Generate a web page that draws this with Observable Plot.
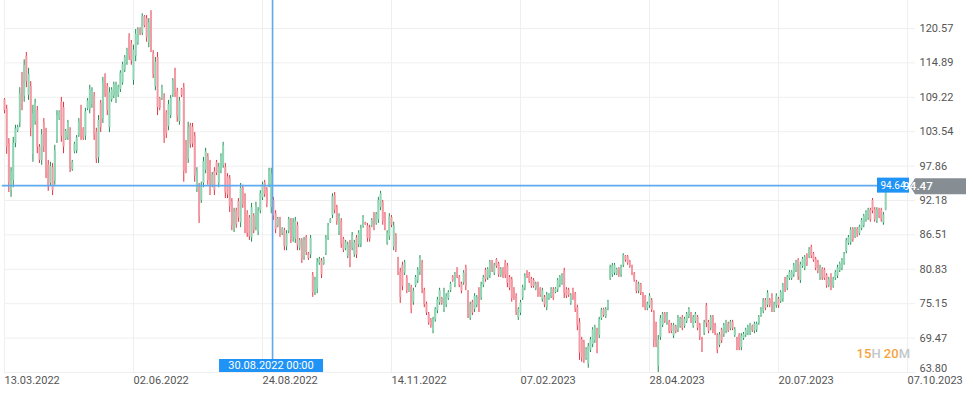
<!DOCTYPE html>
<html><head><meta charset="utf-8">
<script src="https://cdn.jsdelivr.net/npm/d3@7"></script>
<script src="https://cdn.jsdelivr.net/npm/@observablehq/plot@0.6"></script>
<style>html,body{margin:0;padding:0;background:#fff;}#chart svg{display:block}</style>
</head><body><div id="chart"></div>
<script>
// OHLC bars [open, high, low, close], one array per date-label interval
const seg1 = [
[108.8,109.0,106.5,107.0],[107.3,107.9,99.8,101.0],[101.5,102.4,93.5,95.2],[93.8,97.6,92.7,96.9],[95.5,102.6,94.3,101.6],
[101.6,104.6,100.9,104.0],[103.6,104.6,103.4,104.3],[105.0,110.8,104.2,109.8],[112.6,113.3,107.0,108.0],[109.4,115.4,108.4,114.5],
[116.0,116.6,110.8,111.8],[109.5,114.0,108.7,113.0],[111.0,111.8,102.7,104.0],[99.8,107.9,98.5,106.5],[105.2,108.9,104.6,108.2],
[107.0,107.7,99.9,101.0],[101.0,101.4,98.3,98.8],[98.8,103.9,98.0,103.0],[105.0,105.7,100.1,101.0],[103.3,104.1,95.8,97.0],
[98.0,98.8,93.7,94.5],[95.0,98.5,94.5,97.8],[97.6,98.3,93.0,93.8],[95.4,101.3,94.7,100.4],[102.2,107.0,101.6,106.2],
[105.6,107.0,105.4,106.8],[108.4,109.2,101.8,102.8],[107.5,108.4,99.9,101.0],[102.3,103.9,102.1,103.6],[102.6,105.4,102.1,105.0],
[103.6,104.2,96.8,97.6],[97.3,98.8,97.0,98.5],[100.2,101.8,99.9,101.5],[100.4,102.9,99.9,102.5],[103.0,105.7,102.6,105.2],
[107.2,107.9,102.1,103.0],[104.0,104.2,102.1,102.5],[102.8,107.4,102.1,106.8],[107.3,109.0,107.0,108.6],[107.2,111.2,106.5,110.5],
[108.0,110.8,107.4,110.3],[109.4,110.0,102.1,103.0],[103.5,104.1,98.3,99.0],[99.2,106.2,98.3,105.4],[108.2,108.7,103.4,104.2],
[105.6,112.5,104.9,111.8],[112.8,113.1,109.2,109.8],[111.0,111.5,106.2,107.0],[104.2,110.8,103.4,110.0],[108.8,110.8,108.4,110.4],
[109.4,111.7,109.0,111.3],[108.8,111.7,108.2,111.2],[109.5,111.2,109.2,110.9],[110.5,113.6,110.0,113.2],[111.6,115.0,111.2,114.6],
[113.7,116.1,113.3,115.8],[114.9,117.3,114.5,117.0],[119.2,119.7,115.3,116.0],[118.0,118.6,114.5,115.2]
];
const seg2 = [
[112.0,117.8,111.2,117.0],[116.0,120.4,115.1,119.6],[118.2,120.7,117.8,120.3],[120.5,120.7,119.4,119.7],[119.8,123.0,119.4,122.5],
[122.5,122.7,120.7,121.0],[122.2,122.7,118.3,119.0],[118.2,122.2,117.4,121.5],[122.8,123.5,116.6,117.5],[116.4,116.9,112.3,113.0],
[111.0,115.8,110.3,115.0],[115.8,116.6,106.2,107.5],[109.0,109.2,107.0,107.4],[109.0,111.2,108.7,110.8],[109.2,109.8,101.6,102.8],
[106.6,107.0,102.4,103.2],[104.4,108.7,103.7,108.0],[106.2,109.5,105.7,109.0],[109.6,112.3,109.2,111.9],[113.5,114.0,109.2,110.0],
[110.2,110.7,105.1,106.0],[105.2,109.2,104.6,108.6],[110.5,110.7,109.2,109.5],[110.8,111.5,95.2,97.0],[101.5,102.1,96.6,97.4],
[99.0,105.1,98.3,104.2],[104.5,104.9,100.8,101.4],[104.3,104.9,100.9,101.5],[102.8,103.4,95.2,96.2],[94.0,97.6,93.5,97.0],
[94.4,95.0,88.4,89.5],[92.2,95.2,91.7,94.6],[95.0,99.3,94.3,98.6],[97.2,100.8,96.6,100.2],[99.4,99.9,94.7,95.5],
[98.2,98.8,93.0,94.0],[94.7,96.8,94.3,96.4],[97.0,97.6,93.0,93.8],[98.5,98.8,96.3,96.7],[95.0,98.3,94.3,97.7],
[97.1,99.9,96.6,99.4],[98.0,101.8,97.5,101.2],[97.6,98.3,92.5,93.4],[96.1,96.6,92.5,93.1],[95.8,96.3,90.2,91.2],
[92.0,92.5,87.2,88.0],[87.5,90.9,86.9,90.3],[90.5,90.9,87.6,88.2],[92.0,92.5,88.6,89.3],[88.5,95.0,87.7,94.2],
[94.2,94.7,90.9,91.5],[92.8,93.3,86.7,87.6],[90.0,90.5,86.1,86.8],[89.3,89.7,85.6,86.2],[86.0,91.7,85.3,91.0],
[89.6,90.0,86.7,87.3],[87.8,91.9,87.2,91.3],[87.0,91.0,86.4,90.4],[90.5,93.8,90.0,93.3]
];
const seg3 = [
[92.6,95.2,92.2,94.8],[95.1,95.5,92.7,93.2],[93.9,94.3,91.0,91.6],[94.8,97.5,94.3,97.0],[91.0,97.5,90.0,96.6],
[92.2,92.7,88.9,89.6],[90.0,90.5,86.7,87.4],[88.0,89.4,87.7,89.1],[89.0,89.4,86.1,86.7],[86.7,87.7,86.4,87.5],
[87.2,87.6,83.9,84.6],[84.5,87.2,83.9,86.7],[87.1,89.4,86.7,89.0],[88.8,89.2,85.1,85.8],[86.0,89.2,85.3,88.6],
[85.8,89.4,85.1,88.8],[88.1,88.6,83.9,84.7],[84.3,85.9,83.9,85.6],[85.5,85.9,81.8,82.5],[82.9,86.1,82.3,85.5],
[86.0,86.4,83.1,83.6],[83.4,83.6,82.3,82.6],[83.2,86.4,82.6,85.9],[79.8,80.3,76.2,77.0],[77.0,79.5,76.5,79.0],
[77.6,82.6,76.8,82.0],[81.8,82.8,81.5,82.5],[82.2,82.6,79.3,79.9],[81.7,82.8,81.5,82.5],[83.5,86.4,83.1,85.9],
[86.0,88.4,85.6,88.0],[88.5,89.2,88.4,89.0],[89.7,93.3,89.2,92.8],[93.0,93.5,90.0,90.6],[91.0,91.4,88.1,88.7],
[87.0,90.0,86.4,89.5],[88.7,89.2,84.3,85.0],[85.8,86.1,83.6,84.0],[84.2,85.6,83.9,85.3],[83.0,85.3,82.6,84.9],
[85.1,85.6,81.1,81.8],[84.3,86.9,83.9,86.4],[83.2,85.6,82.8,85.2],[86.0,86.4,82.6,83.2],[84.9,87.2,84.4,86.8],
[85.0,88.1,84.4,87.6],[87.9,89.7,87.6,89.4],[88.5,88.6,88.1,88.2],[88.0,88.4,85.3,85.9],[87.7,88.1,85.3,85.8],
[88.0,89.2,87.7,88.9],[89.8,90.2,87.2,87.8],[88.4,90.2,88.1,89.9],[89.0,92.7,88.4,92.2],[91.0,93.7,90.5,93.3],
[91.8,92.2,88.1,88.7],[89.8,90.2,87.2,87.8],[85.2,87.2,84.8,86.8],[86.2,90.0,85.6,89.5]
];
const seg4 = [
[89.4,89.7,87.7,88.1],[84.5,88.6,83.9,88.0],[86.4,86.7,83.6,84.0],[82.5,82.8,79.8,80.3],[80.4,81.0,75.2,76.2],
[81.5,82.0,77.3,78.0],[80.2,82.3,79.8,81.9],[79.4,79.8,76.8,77.3],[77.2,78.5,77.0,78.2],[77.8,78.2,73.5,74.3],
[75.4,77.7,74.9,77.2],[78.1,79.8,77.8,79.5],[78.9,81.1,78.5,80.7],[80.3,83.1,79.8,82.6],[81.8,82.3,76.8,77.6],
[77.3,77.7,74.5,75.0],[75.1,75.4,73.2,73.6],[73.4,73.7,71.6,72.0],[72.5,72.7,71.1,71.4],[70.6,72.9,70.2,72.5],
[72.5,74.5,72.1,74.2],[74.0,76.2,73.5,75.8],[75.3,77.7,74.9,77.3],[76.0,76.2,74.9,75.2],[74.2,77.7,73.7,77.1],
[75.0,76.8,74.5,76.4],[76.0,77.3,75.7,77.0],[77.3,78.7,77.0,78.4],[79.6,79.8,78.7,78.9],[78.2,80.3,77.8,80.0],
[80.9,81.1,79.3,79.6],[79.5,79.8,77.8,78.2],[78.4,78.7,76.8,77.2],[78.6,80.6,78.2,80.2],[81.0,81.5,77.3,78.0],
[76.9,77.3,72.7,73.4],[72.8,75.4,72.4,75.0],[75.4,75.7,73.2,73.6],[74.2,76.8,73.7,76.4],[74.9,76.5,74.5,76.2],
[77.3,77.8,73.7,74.4],[76.1,78.7,75.7,78.3],[78.2,79.8,77.8,79.5],[80.7,81.0,78.7,79.1],[79.4,81.1,79.0,80.8],
[79.8,82.3,79.3,81.9],[82.0,82.3,80.3,80.7],[80.2,81.8,79.8,81.5],[82.4,82.6,81.0,81.3],[81.7,82.0,79.5,79.9],
[79.8,81.1,79.5,80.8],[80.9,81.1,79.3,79.7],[81.9,82.3,79.3,79.9],[81.4,81.8,77.8,78.5],[79.5,79.8,77.3,77.7],
[79.1,79.5,75.4,76.0],[77.5,77.8,75.7,76.0],[76.4,76.8,73.2,73.7],[72.8,74.5,72.4,74.2]
];
const seg5 = [
[73.6,75.7,73.2,75.3],[76.1,78.2,75.7,77.8],[77.7,80.1,77.3,79.7],[80.4,80.6,79.3,79.6],[80.0,80.3,78.5,78.8],
[79.2,79.5,77.7,78.0],[79.0,79.3,77.7,78.0],[77.6,78.7,77.3,78.4],[78.4,78.7,76.2,76.6],[77.6,77.8,76.2,76.5],
[75.8,77.7,75.4,77.3],[76.2,76.5,74.5,74.9],[74.5,77.0,74.0,76.6],[76.0,76.8,75.7,76.6],[76.3,77.8,76.0,77.5],
[77.5,77.8,75.7,76.1],[77.0,77.8,76.8,77.6],[77.4,79.3,77.0,79.0],[78.2,79.8,77.8,79.5],[78.5,80.1,78.2,79.8],
[80.5,81.0,76.0,76.8],[77.5,77.8,76.0,76.4],[77.4,77.7,76.2,76.5],[75.2,76.8,74.9,76.5],[77.4,77.7,75.7,76.0],
[76.7,77.0,73.7,74.3],[74.5,74.9,70.7,71.5],[72.0,72.7,65.8,67.0],[69.2,69.6,65.5,66.2],[68.7,69.1,65.3,65.9],
[66.1,67.9,65.8,67.6],[65.2,68.6,64.5,68.1],[67.5,69.6,67.1,69.2],[68.4,71.2,67.9,70.8],[69.0,71.6,68.6,71.2],
[70.7,71.1,66.9,67.6],[69.9,72.9,69.4,72.5],[72.7,74.4,72.4,74.1],[74.2,74.4,72.9,73.2],[73.0,74.5,72.7,74.2],
[74.3,75.7,74.0,75.4],[79.3,81.5,79.0,81.1],[79.9,81.8,79.5,81.4],[80.2,81.8,79.8,81.5],[80.0,81.0,79.8,80.8],
[80.9,81.1,79.5,79.8],[79.9,81.5,79.5,81.2],[81.5,83.4,81.1,83.1],[83.0,83.1,82.0,82.3],[82.9,83.1,81.5,81.8],
[82.1,82.3,81.0,81.3],[81.2,81.5,79.8,80.1],[80.0,80.3,78.7,79.0],[78.7,79.0,76.8,77.2],[77.2,78.7,76.8,78.4],
[78.3,78.5,76.5,76.9],[76.7,77.0,74.5,74.9],[76.2,76.5,74.0,74.4],[74.3,75.4,74.0,75.1]
];
const seg6 = [
[74.8,76.8,74.4,76.4],[75.7,76.0,73.7,74.1],[73.6,74.0,67.9,69.0],[71.7,72.1,67.9,68.6],[64.8,69.9,63.8,69.2],
[69.6,73.2,69.1,72.7],[71.6,73.7,71.2,73.4],[73.5,73.7,71.9,72.2],[72.0,73.7,71.6,73.4],[72.1,72.4,70.2,70.6],
[71.6,71.9,70.2,70.6],[69.8,71.9,69.4,71.6],[71.4,71.6,70.2,70.5],[70.8,73.2,70.4,72.8],[71.4,72.9,71.1,72.6],
[72.9,73.2,70.7,71.1],[71.4,72.9,71.1,72.6],[72.2,73.7,71.9,73.4],[73.0,74.5,72.7,74.2],[73.5,73.7,71.9,72.2],
[71.4,73.2,71.1,72.9],[72.2,73.7,71.9,73.4],[72.9,73.2,70.7,71.1],[71.6,71.9,69.1,69.6],[69.3,69.6,67.1,67.6],
[70.3,72.4,69.9,72.0],[74.8,75.2,71.2,71.9],[72.1,72.4,70.2,70.6],[71.1,73.2,70.7,72.9],[72.9,73.2,70.2,70.7],
[71.6,71.9,69.9,70.3],[69.9,70.2,66.9,67.5],[68.3,70.4,67.9,70.0],[70.8,71.1,68.6,69.0],[70.0,71.9,69.6,71.5],
[70.6,72.4,70.2,72.1],[71.8,72.1,70.4,70.7],[71.0,72.4,70.7,72.1],[72.1,72.4,70.7,71.0],[69.9,71.2,69.6,70.9],
[69.3,69.6,67.4,67.8],[69.9,70.2,67.4,67.9],[67.9,70.2,67.4,69.8],[69.4,70.4,69.1,70.1],[69.9,71.1,69.6,70.8],
[70.2,71.6,69.9,71.3],[70.3,71.9,69.9,71.6],[71.4,71.6,70.4,70.7],[70.6,72.1,70.2,71.8],[70.8,72.1,70.4,71.8],
[71.9,73.2,71.6,72.9],[73.2,74.5,72.9,74.2],[73.9,76.0,73.5,75.6],[75.7,76.0,74.0,74.4],[74.9,77.3,74.5,76.9],
[75.8,76.0,74.5,74.9],[76.4,76.8,73.7,74.3],[74.0,75.4,73.7,75.1],[74.8,76.8,74.4,76.4]
];
const seg7 = [
[75.9,76.2,74.4,74.8],[75.5,77.3,75.2,77.0],[75.9,78.5,75.4,78.1],[79.2,79.5,77.0,77.4],[77.7,79.8,77.3,79.5],
[79.3,80.6,79.0,80.3],[79.3,80.6,79.0,80.4],[79.9,81.8,79.5,81.4],[80.6,82.3,80.3,82.0],[82.3,82.6,79.0,79.6],
[79.0,82.0,78.5,81.6],[81.3,82.8,81.0,82.5],[81.0,83.1,80.6,82.8],[83.1,83.4,81.3,81.7],[82.9,84.4,82.6,84.1],
[84.5,84.8,82.6,83.0],[83.4,83.6,82.0,82.3],[82.5,82.8,80.6,81.0],[82.0,82.3,80.1,80.5],[79.4,81.5,79.0,81.1],
[80.8,81.1,79.0,79.4],[80.7,81.0,79.0,79.3],[79.8,80.1,77.7,78.1],[78.1,79.5,77.8,79.2],[79.8,80.1,77.3,77.8],
[78.0,79.5,77.7,79.2],[79.3,80.6,79.0,80.3],[79.7,81.5,79.3,81.1],[80.6,82.0,80.3,81.7],[81.0,82.6,80.6,82.3],
[81.8,83.6,81.5,83.3],[83.8,85.9,83.4,85.6],[85.1,86.4,84.8,86.1],[85.2,87.7,84.8,87.3],[87.4,87.7,85.3,85.7],
[86.2,87.7,85.9,87.4],[87.5,87.7,86.1,86.4],[86.7,88.1,86.4,87.8],[87.5,89.2,87.2,88.9],[88.0,89.9,87.7,89.6],
[88.9,90.5,88.6,90.2],[89.2,90.9,88.9,90.6],[90.6,90.9,88.6,89.0],[92.2,92.5,90.0,90.4],[90.7,91.0,88.6,89.0],
[88.8,91.0,88.4,90.6],[90.6,90.9,89.2,89.5],[90.6,90.9,88.6,89.0],[88.5,90.2,88.1,89.8],[90.6,94.64,90.5,94.47]
];

const yTicks = [63.80, 69.47, 75.15, 80.83, 86.51, 92.18, 97.86, 103.54, 109.22, 114.89, 120.57];
const xTickIndex = [0, 59, 118, 177, 236, 295, 354, 413];
const xTickLabels = ["13.03.2022", "02.06.2022", "24.08.2022", "14.11.2022", "07.02.2023", "28.04.2023", "20.07.2023", "07.10.2023"];
const crossIndex = 122.6;
const crossPrice = 94.64;
const crossDate = "30.08.2022 00:00";
const lastPrice = 94.47;
const timerParts = [["15", "#f5a43c"], ["H ", "#c3c7cb"], ["20", "#f5a43c"], ["M", "#c3c7cb"]];

const bars = [...seg1, ...seg2, ...seg3, ...seg4, ...seg5, ...seg6, ...seg7]
  .map(([open, high, low, close], i) => ({i, open, high, low, close, up: close >= open}));

const Y0 = 63.80, Y1 = 125.19, XMAX = 413;
const GRID = "#efefef";

const chart = Plot.plot({
  width: 973, height: 399,
  marginLeft: 4, marginRight: 66, marginTop: 0, marginBottom: 27,
  x: {type: "linear", domain: [0, XMAX], axis: null},
  y: {domain: [Y0, Y1], axis: null},
  color: {type: "identity"},
  style: {fontFamily: "Roboto, 'Noto Sans', sans-serif", fontSize: "11px", background: "#fff", overflow: "visible"},
  marks: [
    Plot.ruleY(yTicks, {y: d => d, x1: 0, x2: 416.7, stroke: GRID, strokeWidth: 1}),
    Plot.ruleX(xTickIndex, {x: d => d, y1: Y0, y2: Y1, stroke: GRID, strokeWidth: 1}),
    Plot.ruleX(bars, {x: "i", y1: "low", y2: "high", stroke: d => d.up ? "#1e8c52" : "#e3303f", strokeWidth: 1}),
    Plot.ruleX(bars, {x: "i", y1: "open", y2: "close", stroke: d => d.up ? "#8fd5b4" : "#f39ba5", strokeWidth: 2}),
    Plot.ruleX([crossIndex], {x: d => d, y1: Y0, y2: Y1, stroke: "#5eaaf0", strokeWidth: 1.6}),
    Plot.ruleY([crossPrice], {y: d => d, x1: -1, x2: 399.8, stroke: "#5eaaf0", strokeWidth: 1.6}),
    Plot.text(xTickIndex, {x: d => d, y: Y0, text: (d, i) => xTickLabels[i], textAnchor: "start", lineAnchor: "middle", dy: 8, fill: "#555", fontSize: 11}),
    Plot.text(yTicks.slice(1), {x: XMAX, y: d => d, text: d => d.toFixed(2), textAnchor: "start", lineAnchor: "middle", dx: 12, fill: "#555", fontSize: 11}),
    Plot.text([Y0], {x: XMAX, y: d => d, text: d => d.toFixed(2), textAnchor: "start", lineAnchor: "middle", dx: 12, dy: -4, fill: "#555", fontSize: 11})
  ]
});

// overlay tags placed through the chart's scales
const sx = chart.scale("x"), sy = chart.scale("y");
const svg = d3.select(chart);
const g = svg.append("g").attr("font-family", "Roboto, 'Noto Sans', sans-serif");

// crosshair price tag
const cy = sy.apply(crossPrice);
const tagR = sx.apply(XMAX) + 3;
g.append("rect").attr("x", tagR - 33).attr("y", cy - 7.5).attr("width", 32).attr("height", 15).attr("fill", "#1f93f6");
g.append("text").attr("x", tagR - 17).attr("y", cy).attr("dy", "0.35em").attr("text-anchor", "middle")
  .attr("fill", "#fff").attr("font-size", 10).text(crossPrice.toFixed(2));

// last price tag
const ly = sy.apply(lastPrice);
const lx = tagR;
g.append("path").attr("d", `M${lx},${ly} L${lx + 5},${ly - 8} L${lx + 56},${ly - 8} L${lx + 56},${ly + 8} L${lx + 5},${ly + 8} Z`)
  .attr("fill", "#868e94");
g.append("text").attr("x", lx + 8).attr("y", ly).attr("dy", "0.35em").attr("fill", "#fff")
  .attr("font-size", 11.5).attr("font-weight", 500).text(lastPrice.toFixed(2));

// crosshair date tag
const cx = sx.apply(crossIndex);
const by = sy.apply(Y0);
g.append("rect").attr("x", cx - 53).attr("y", by - 13).attr("width", 104).attr("height", 13).attr("fill", "#1f93f6");
g.append("text").attr("x", cx - 1).attr("y", by - 6.5).attr("dy", "0.35em").attr("text-anchor", "middle")
  .attr("fill", "#fff").attr("font-size", 11).text(crossDate);

// countdown
const t = g.append("text").attr("x", tagR).attr("y", by - 19).attr("dy", "0.35em").attr("text-anchor", "end")
  .attr("font-size", 13).attr("font-weight", 500).attr("xml:space", "preserve").style("white-space", "pre");
timerParts.forEach(([s, c]) => t.append("tspan").attr("fill", c).text(s));

document.getElementById("chart").appendChild(chart);
</script>
</body></html>
